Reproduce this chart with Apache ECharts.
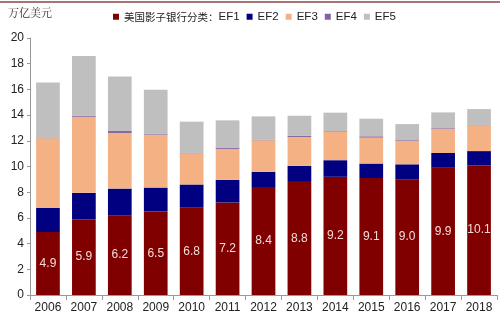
<!DOCTYPE html>
<html><head><meta charset="utf-8">
<script src="https://cdn.jsdelivr.net/npm/echarts@6/dist/echarts.min.js"></script>
<style>html,body{margin:0;padding:0;background:#fff}#c{width:500px;height:322px}</style>
</head><body><div id="c"></div>
<script>
const years = ['2006','2007','2008','2009','2010','2011','2012','2013','2014','2015','2016','2017','2018'];
const ef1 = [4.9,5.9,6.2,6.5,6.8,7.2,8.4,8.8,9.2,9.1,9.0,9.9,10.1];
const ef2 = [1.88,2.05,2.08,1.86,1.80,1.76,1.18,1.25,1.29,1.13,1.17,1.15,1.10];
const ef3 = [5.42,5.92,4.33,4.12,2.43,2.41,2.46,2.25,2.20,2.02,1.84,1.89,2.01];
const ef4 = [0.05,0.08,0.15,0.08,0.05,0.10,0.05,0.10,0.05,0.10,0.05,0.05,0.05];
const ef5 = [4.29,4.65,4.24,3.41,2.41,2.12,1.81,1.55,1.45,1.37,1.24,1.22,1.21];
const names = ['美国影子银行分类：EF1','EF2','EF3','EF4','EF5'];
const colors = ['#800000','#000080','#F4B183','#8064A2','#BFBFBF'];

const chart = echarts.init(document.getElementById('c'));
const font = 'Arial, "Liberation Sans", "Noto Sans CJK SC", sans-serif';
const all = [ef1,ef2,ef3,ef4,ef5];
chart.setOption({
  animation:false,
  textStyle:{fontFamily:font},
  graphic:[
    {type:'line',shape:{x1:0,y1:2,x2:500,y2:2},style:{stroke:'#8B4545',lineWidth:1.5}},
    {type:'text',left:8,top:7,style:{text:'万亿美元',fontSize:11,fill:'#333',fontFamily:'"Noto Serif CJK SC","Noto Sans CJK SC",serif'}}
  ],
  legend:{
    top:6,left:108,itemWidth:6,itemHeight:6,itemGap:7,icon:'rect',
    textStyle:{fontSize:11,color:'#222',fontFamily:font,
      rich:{c:{fontSize:10.5,color:'#222',fontFamily:'"Noto Sans CJK SC",sans-serif'},e:{fontSize:11.5,color:'#222',fontFamily:font}}},
    formatter:n=>{
      const k = n.indexOf('EF');
      return k>0 ? '{c|'+n.slice(0,k)+'}{e|'+n.slice(k)+'}' : '{e|'+n+'}';
    },
    data:names
  },
  grid:{left:30,right:3,top:38,bottom:27},
  xAxis:{
    type:'category',data:years,
    axisLine:{lineStyle:{color:'#999'}},
    axisTick:{show:true,alignWithLabel:false,lineStyle:{color:'#999'}},
    axisLabel:{fontSize:12,color:'#222',margin:7}
  },
  yAxis:{
    type:'value',min:0,max:20,interval:2,
    axisLine:{show:true,lineStyle:{color:'#999'}},
    axisTick:{show:true,length:3,lineStyle:{color:'#999'}},
    splitLine:{show:false},
    axisLabel:{fontSize:12,color:'#222',margin:6}
  },
  series: all.map((d,i)=>({
    name:names[i],type:'bar',stack:'s',data:d,barWidth:'66%',
    itemStyle:{color:colors[i]},
    label: i===0 ? {show:true,position:'inside',color:'#F2DCDB',fontSize:12,formatter:p=>p.value.toFixed(1)} : {show:false}
  }))
});
</script></body></html>
